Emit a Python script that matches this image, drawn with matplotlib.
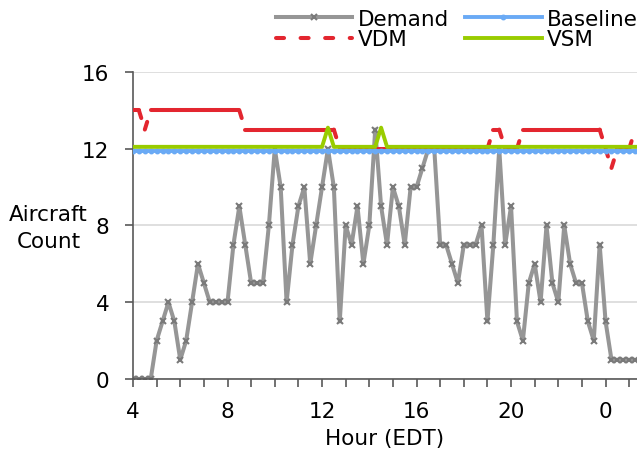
import numpy as np
import matplotlib
matplotlib.use("Agg")
import matplotlib.pyplot as plt
from matplotlib.collections import LineCollection
from matplotlib.lines import Line2D

# 15-minute bins from 04:00 EDT to 01:15 the next day
hours = np.arange(4.0, 25.26, 0.25)

demand = [0, 0, 0, 0, 2, 3, 4, 3, 1, 2, 4, 6, 5, 4, 4, 4,
          4, 7, 9, 7, 5, 5, 5, 8, 12, 10, 4, 7, 9, 10, 6, 8,
          10, 12, 10, 3, 8, 7, 9, 6, 8, 13, 9, 7, 10, 9, 7, 10,
          10, 11, 12, 12, 7, 7, 6, 5, 7, 7, 7, 8, 3, 7, 12, 7,
          9, 3, 2, 5, 6, 4, 8, 5, 4, 8, 6, 5, 5, 3, 2, 7,
          3, 1, 1, 1, 1, 1]

vdm = [14, 14, 13, 14, 14, 14, 14, 14, 14, 14, 14, 14, 14, 14, 14, 14,
       14, 14, 14, 13, 13, 13, 13, 13, 13, 13, 13, 13, 13, 13, 13, 13,
       13, 13, 13, 12, 12, 12, 12, 12, 12, 12, 12, 12, 12, 12, 12, 12,
       12, 12, 12, 12, 12, 12, 12, 12, 12, 12, 12, 12, 12, 13, 13, 12,
       12, 12, 13, 13, 13, 13, 13, 13, 13, 13, 13, 13, 13, 13, 13, 13,
       12, 11, 12, 12, 12, 13]

vsm = [12.1] * 33 + [13.1] + [12.1] * 8 + [13.1] + [12.1] * 43
baseline = [11.9] * 86

tick_hours = [4, 8, 12, 16, 20, 24]
tick_labels = ["4", "8", "12", "16", "20", "0"]

GRAY = "#969696"
RED = "#e3262f"
BLUE = "#6aaaf5"
GREEN = "#99cc00"
AXIS = "#595959"

plt.rcParams["font.family"] = "DejaVu Sans"
plt.rcParams["font.size"] = 15.5

fig = plt.figure(figsize=(6.37, 4.52), dpi=100)
ax = fig.add_axes([0.2088, 0.1593, 0.7912, 0.6792])

ax.plot(hours, demand, color=GRAY, lw=2.9, marker="x", ms=4,
        mec="#7a7a7a", mew=1.5, zorder=2)

# Excel restarts the dash pattern on every segment, so draw VDM segment by segment
pts = np.column_stack([hours, vdm])
segs = np.stack([pts[:-1], pts[1:]], axis=1)
dash = (0, (2.0, 4.1))
lc = LineCollection(segs, colors=RED, linewidths=2.9, linestyles=dash,
                    capstyle="round", zorder=3)
ax.add_collection(lc)

ax.plot(hours, baseline, color=BLUE, lw=2.8, marker="o", ms=3.2,
        mec=BLUE, mfc=BLUE, zorder=4)
ax.plot(hours, vsm, color=GREEN, lw=2.8, zorder=5)

ax.set_xlim(4, 25.33)
ax.set_ylim(0, 16)
ax.set_yticks([0, 4, 8, 12, 16])
ax.set_xticks(np.arange(4, 26, 1))
ax.set_xticklabels([tick_labels[tick_hours.index(h)] if h in tick_hours else ""
                    for h in range(4, 26)])
ax.grid(axis="y", color="#d9d9d9", lw=1.2, zorder=0)
ax.set_axisbelow(True)

for side in ["top", "right"]:
    ax.spines[side].set_visible(False)
for side in ["left", "bottom"]:
    ax.spines[side].set_color(AXIS)
    ax.spines[side].set_linewidth(1.2)
ax.tick_params(axis="both", direction="out", length=6, width=1.2, color=AXIS)
ax.tick_params(axis="x", pad=10)
ax.tick_params(axis="y", pad=11)

ax.set_xlabel("Hour (EDT)", labelpad=5)
fig.text(0.076, 0.495, "Aircraft\nCount", ha="center", va="center",
         linespacing=1.45)

handles = [
    Line2D([], [], color=GRAY, lw=2.9, marker="x", ms=4, mec="#7a7a7a",
           mew=1.5, markevery=[1]),
    Line2D([], [], color=RED, lw=2.9, linestyle=dash, dash_capstyle="round"),
    Line2D([], [], color=BLUE, lw=2.8, marker="o", ms=3.2, markevery=[1]),
    Line2D([], [], color=GREEN, lw=2.8),
]
fig.legend(handles, ["Demand", "VDM", "Baseline", "VSM"], ncol=2,
           loc="upper right", bbox_to_anchor=(1.025, 1.012), frameon=False,
           handlelength=3.55, handletextpad=0.25, columnspacing=0.75,
           labelspacing=0.02, borderpad=0.2, fontsize=15.5)

fig.savefig("out.png", dpi=100)
